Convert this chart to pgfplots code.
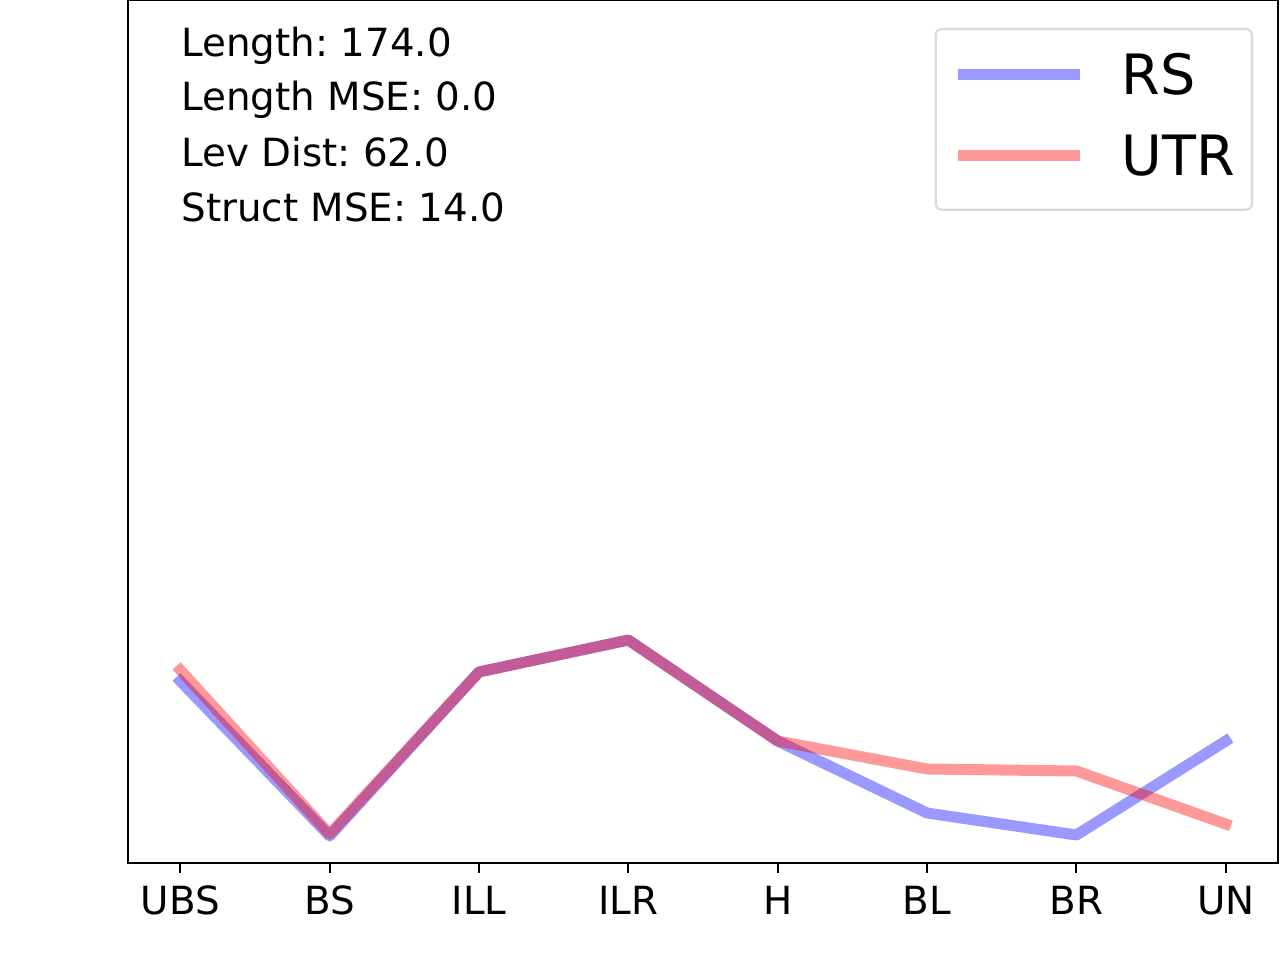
\documentclass[border=0pt]{standalone}
\usepackage{pgfplots}
\pgfplotsset{compat=1.18}
\usepackage{fontspec}
\setmainfont{DejaVu Sans}
\frenchspacing
\begin{document}
\begin{tikzpicture}
\path[use as bounding box] (0,0) rectangle (640pt,480pt);
\begin{axis}[
  at={(64pt,48.5pt)}, anchor=south west,
  scale only axis, width=575pt, height=431.5pt,
  xmin=-0.35, xmax=7.35, ymin=0, ymax=863,
  xtick={0,1,2,3,4,5,6,7},
  xticklabels={UBS,BS,ILL,ILR,H,BL,BR,UN},
  ytick=\empty,
  tick pos=left,
  tick align=outside,
  major tick length=4.9pt,
  axis line style={line width=1.1pt},
  every tick/.style={black, line width=1.1pt},
  xticklabel style={font=\fontsize{19.4}{23}\selectfont, yshift=-3pt},
  legend cell align=left,
  legend style={at={(0.9783,0.9676)}, anchor=north east,
    draw=black!15, line width=1.1pt, rounded corners=3pt,
    font=\fontsize{27.8}{33}\selectfont,
    inner xsep=8.5pt, inner ysep=12.2pt,
    row sep=15.4pt, column sep=0pt,
    nodes={inner sep=0pt, text depth=4.8pt}},
  legend image code/.code={\draw[#1, line cap=butt] (0pt,2.25pt) -- (61pt,2.25pt);},
]
\addplot[draw=blue, draw opacity=0.4, line width=5.5pt, line join=round, line cap=rect]
  coordinates {(0,182) (1,27) (2,191) (3,223) (4,122) (5,50) (6,28) (7,122)};
\addlegendentry{\hspace{18pt}RS}
\addplot[draw=red, draw opacity=0.4, line width=5.5pt, line join=round, line cap=rect]
  coordinates {(0,193) (1,29) (2,191) (3,223) (4,122) (5,94) (6,92) (7,39)};
\addlegendentry{\hspace{18pt}UTR}
\node[anchor=base west, inner sep=0pt, font=\fontsize{19.4}{23}\selectfont] at (axis cs:0.005,806) {Length: 174.0};
\node[anchor=base west, inner sep=0pt, font=\fontsize{19.4}{23}\selectfont] at (axis cs:0.005,752) {Length MSE: 0.0};
\node[anchor=base west, inner sep=0pt, font=\fontsize{19.4}{23}\selectfont] at (axis cs:0.005,696) {Lev Dist: 62.0};
\node[anchor=base west, inner sep=0pt, font=\fontsize{19.4}{23}\selectfont] at (axis cs:0.005,641) {Struct MSE: 14.0};
\end{axis}
\end{tikzpicture}
\end{document}
